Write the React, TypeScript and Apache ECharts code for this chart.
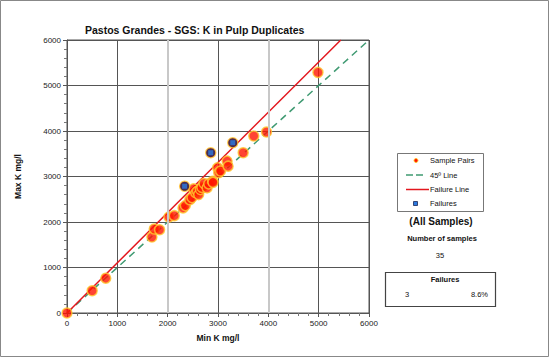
import React, { useEffect, useRef } from "react";
import * as echarts from "echarts";

// Sample pairs (min, max) in mg/l
const sampleMin = [0, 500, 770, 1687, 1733, 1839, 2026, 2131, 2305, 2351, 2440, 2484, 2516, 2560, 2590, 2616, 2649, 2680, 2723, 2783, 2815, 2894, 2900, 2994, 3014, 3050, 3181, 3201, 3500, 3711, 3964, 4986, 2337, 2855, 3293];
const sampleMax = [0, 490, 765, 1669, 1846, 1830, 2110, 2139, 2309, 2360, 2490, 2536, 2728, 2640, 2675, 2602, 2712, 2760, 2845, 2750, 2838, 2896, 2870, 3191, 3081, 3120, 3338, 3227, 3523, 3889, 3977, 5288, 2786, 3523, 3743];
// Failures
const failureMin = [2337, 2855, 3293];
const failureMax = [2786, 3523, 3743];
// Reference lines
const line45Min = [0, 6000];
const line45Max = [0, 6000];
const failLineMin = [0, 5440];
const failLineMax = [0, 6000];
// Axis
const axisMin = 0;
const axisMax = 6000;
const axisInterval = 1000;
const lightGridValues = [2000, 4000];

const nSamples = "35";
const nFailures = "3";
const pctFailures = "8.6%";

const FONT = "Liberation Sans, Arial, sans-serif";

export default function App() {
  const ref = useRef<HTMLDivElement>(null);
  useEffect(() => {
    document.body.style.margin = "0";
    const chart = echarts.init(ref.current!, null, { renderer: "svg" });
    const pairs = sampleMin.map((v, i) => [v, sampleMax[i]]);
    const fails = failureMin.map((v, i) => [v, failureMax[i]]);
    const l45 = line45Min.map((v, i) => [v, line45Max[i]]);
    const lf = failLineMin.map((v, i) => [v, failLineMax[i]]);
    const axisCommon = {
      type: "value",
      min: axisMin,
      max: axisMax,
      interval: axisInterval,
      axisLine: { show: true, lineStyle: { color: "#555", width: 1 } },
      axisTick: { show: true, length: 4, lineStyle: { color: "#555" } },
      minorTick: { show: true, splitNumber: 5, length: 3, lineStyle: { color: "#777" } },
      splitLine: { show: true, lineStyle: { color: "#555", width: 1 } },
      axisLabel: { fontFamily: FONT, fontSize: 8, color: "#222", margin: 6, formatter: (v: number) => String(v) },
      nameLocation: "middle",
      nameTextStyle: { fontFamily: FONT, fontSize: 8.5, fontWeight: "bold", color: "#111" },
    };
    const T = (x: number, y: number, text: string, opts: any = {}) => ({
      type: "text",
      x,
      y,
      style: {
        text,
        fontFamily: FONT,
        fontSize: opts.size || 7.5,
        fontWeight: opts.bold ? "bold" : "normal",
        fill: "#111",
        align: opts.align || "left",
        verticalAlign: "middle",
      },
    });
    chart.setOption({
      animation: false,
      backgroundColor: "#fff",
      title: {
        text: "Pastos Grandes - SGS: K in Pulp Duplicates",
        left: 80,
        top: 19,
        textStyle: { fontFamily: FONT, fontSize: 10.5, fontWeight: "bold", color: "#111" },
      },
      grid: {
        left: 67,
        right: 180,
        top: 40,
        bottom: 44,
        show: true,
        borderColor: "#555",
        borderWidth: 1,
        backgroundColor: "transparent",
      },
      xAxis: { ...axisCommon, name: "Min K mg/l", nameGap: 20 },
      yAxis: { ...axisCommon, name: "Max K mg/l", nameGap: 45 },
      series: [
        {
          type: "line",
          data: l45,
          showSymbol: false,
          symbol: "none",
          lineStyle: { color: "#3f9a72", width: 1.5, type: [7, 5] },
          markLine: {
            silent: true,
            symbol: "none",
            label: { show: false },
            lineStyle: { color: "#c8c8c8", width: 2, type: "solid" },
            data: lightGridValues.map((v) => ({ xAxis: v })),
          },
          z: 2,
        },
        {
          type: "line",
          data: lf,
          showSymbol: false,
          symbol: "none",
          lineStyle: { color: "#e3171e", width: 1.5 },
          z: 3,
        },
        {
          type: "scatter",
          data: pairs,
          symbol: "circle",
          symbolSize: 10,
          itemStyle: { color: "#ff1500", borderColor: "#ffc830", borderWidth: 1.5 },
          z: 4,
        },
        {
          type: "scatter",
          data: fails,
          symbol: "circle",
          symbolSize: 9,
          itemStyle: { color: "#1b2757", borderColor: "#1b2757", borderWidth: 0 },
          z: 5,
        },
        {
          type: "scatter",
          data: fails,
          symbol: "rect",
          symbolSize: 5,
          itemStyle: { color: "#2d7ae0" },
          z: 6,
        },
      ],
      graphic: [
        { type: "rect", shape: { x: 0.5, y: 0.5, width: 548, height: 356 }, style: { fill: "none", stroke: "#888", lineWidth: 1 } },
        { type: "rect", shape: { x: 397.5, y: 153.5, width: 86, height: 58 }, style: { fill: "#fff", stroke: "#777", lineWidth: 1 } },
        { type: "circle", shape: { cx: 416, cy: 160.5, r: 2 }, style: { fill: "#ff1500", stroke: "#ffc830", lineWidth: 1 } },
        T(430, 160.5, "Sample Pairs"),
        { type: "line", shape: { x1: 406, y1: 175, x2: 425, y2: 175 }, style: { stroke: "#3f9a72", lineWidth: 1.5, lineDash: [7, 3] } },
        T(430, 175, "45º Line"),
        { type: "line", shape: { x1: 406, y1: 189.5, x2: 429, y2: 189.5 }, style: { stroke: "#e3171e", lineWidth: 1.5 } },
        T(430, 189.5, "Failure Line"),
        { type: "rect", shape: { x: 413.5, y: 201.5, width: 4, height: 4 }, style: { fill: "#2d7ae0", stroke: "#1b2757", lineWidth: 0.8 } },
        T(430, 203.5, "Failures"),
        T(441, 221.5, "(All Samples)", { bold: true, size: 10, align: "center" }),
        T(442, 238.5, "Number of samples", { bold: true, size: 7.5, align: "center" }),
        T(440, 255, nSamples, { size: 7.5, align: "center" }),
        { type: "rect", shape: { x: 385.5, y: 272.5, width: 110, height: 34 }, style: { fill: "#fff", stroke: "#444", lineWidth: 1.2 } },
        T(445, 279.5, "Failures", { bold: true, size: 7.5, align: "center" }),
        T(405, 294.5, nFailures, { size: 7.5, align: "left" }),
        T(488, 294.5, pctFailures, { size: 7.5, align: "right" }),
      ],
    });
    return () => chart.dispose();
  }, []);
  return <div ref={ref} style={{ width: 549, height: 357 }} />;
}
